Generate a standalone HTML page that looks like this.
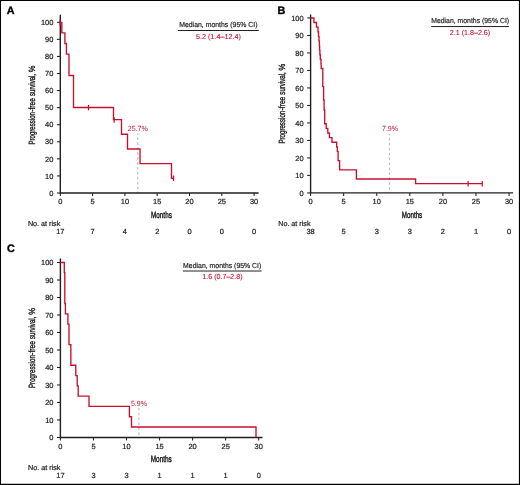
<!DOCTYPE html>
<html><head><meta charset="utf-8"><title>Progression-free survival</title>
<style>
html,body{margin:0;padding:0;background:#fff}
body{width:520px;height:485px;overflow:hidden;position:relative}
svg{display:block;position:absolute;left:0;top:0;font-family:"Liberation Sans",sans-serif;text-rendering:geometricPrecision}
</style></head><body>
<svg width="520" height="485" viewBox="0 0 520 485">
<rect x="0" y="0" width="520" height="485" fill="#fff"/>
<text x="6.8" y="14.2" font-size="10.8" font-weight="700" fill="#000" stroke="#000" stroke-width="0.35">A</text>
<line x1="137.7" y1="133.3" x2="137.7" y2="193.0" stroke="#c0c0c0" stroke-width="1.2" stroke-dasharray="2.7 2.24" stroke-dashoffset="1.0"/>
<path d="M60.3 14.8V193.0H258.6" fill="none" stroke="#231f20" stroke-width="1.4"/>
<line x1="56.90" y1="193.00" x2="60.3" y2="193.00" stroke="#231f20" stroke-width="1.05"/>
<text x="53.35" y="195.70" font-size="7.45" text-anchor="end" fill="#231f20" stroke="#231f20" stroke-width="0.22">0</text>
<line x1="56.90" y1="175.93" x2="60.3" y2="175.93" stroke="#231f20" stroke-width="1.05"/>
<text x="53.35" y="178.63" font-size="7.45" text-anchor="end" fill="#231f20" stroke="#231f20" stroke-width="0.22">10</text>
<line x1="56.90" y1="158.86" x2="60.3" y2="158.86" stroke="#231f20" stroke-width="1.05"/>
<text x="53.35" y="161.56" font-size="7.45" text-anchor="end" fill="#231f20" stroke="#231f20" stroke-width="0.22">20</text>
<line x1="56.90" y1="141.79" x2="60.3" y2="141.79" stroke="#231f20" stroke-width="1.05"/>
<text x="53.35" y="144.49" font-size="7.45" text-anchor="end" fill="#231f20" stroke="#231f20" stroke-width="0.22">30</text>
<line x1="56.90" y1="124.72" x2="60.3" y2="124.72" stroke="#231f20" stroke-width="1.05"/>
<text x="53.35" y="127.42" font-size="7.45" text-anchor="end" fill="#231f20" stroke="#231f20" stroke-width="0.22">40</text>
<line x1="56.90" y1="107.65" x2="60.3" y2="107.65" stroke="#231f20" stroke-width="1.05"/>
<text x="53.35" y="110.35" font-size="7.45" text-anchor="end" fill="#231f20" stroke="#231f20" stroke-width="0.22">50</text>
<line x1="56.90" y1="90.58" x2="60.3" y2="90.58" stroke="#231f20" stroke-width="1.05"/>
<text x="53.35" y="93.28" font-size="7.45" text-anchor="end" fill="#231f20" stroke="#231f20" stroke-width="0.22">60</text>
<line x1="56.90" y1="73.51" x2="60.3" y2="73.51" stroke="#231f20" stroke-width="1.05"/>
<text x="53.35" y="76.21" font-size="7.45" text-anchor="end" fill="#231f20" stroke="#231f20" stroke-width="0.22">70</text>
<line x1="56.90" y1="56.44" x2="60.3" y2="56.44" stroke="#231f20" stroke-width="1.05"/>
<text x="53.35" y="59.14" font-size="7.45" text-anchor="end" fill="#231f20" stroke="#231f20" stroke-width="0.22">80</text>
<line x1="56.90" y1="39.37" x2="60.3" y2="39.37" stroke="#231f20" stroke-width="1.05"/>
<text x="53.35" y="42.07" font-size="7.45" text-anchor="end" fill="#231f20" stroke="#231f20" stroke-width="0.22">90</text>
<line x1="56.90" y1="22.30" x2="60.3" y2="22.30" stroke="#231f20" stroke-width="1.05"/>
<text x="53.35" y="25.00" font-size="7.45" text-anchor="end" fill="#231f20" stroke="#231f20" stroke-width="0.22">100</text>
<line x1="60.30" y1="193.0" x2="60.30" y2="196.0" stroke="#231f20" stroke-width="1.05"/>
<text x="60.30" y="204.45" font-size="7.45" text-anchor="middle" fill="#231f20" stroke="#231f20" stroke-width="0.22">0</text>
<line x1="92.60" y1="193.0" x2="92.60" y2="196.0" stroke="#231f20" stroke-width="1.05"/>
<text x="92.60" y="204.45" font-size="7.45" text-anchor="middle" fill="#231f20" stroke="#231f20" stroke-width="0.22">5</text>
<line x1="124.90" y1="193.0" x2="124.90" y2="196.0" stroke="#231f20" stroke-width="1.05"/>
<text x="124.90" y="204.45" font-size="7.45" text-anchor="middle" fill="#231f20" stroke="#231f20" stroke-width="0.22">10</text>
<line x1="157.20" y1="193.0" x2="157.20" y2="196.0" stroke="#231f20" stroke-width="1.05"/>
<text x="157.20" y="204.45" font-size="7.45" text-anchor="middle" fill="#231f20" stroke="#231f20" stroke-width="0.22">15</text>
<line x1="189.50" y1="193.0" x2="189.50" y2="196.0" stroke="#231f20" stroke-width="1.05"/>
<text x="189.50" y="204.45" font-size="7.45" text-anchor="middle" fill="#231f20" stroke="#231f20" stroke-width="0.22">20</text>
<line x1="221.80" y1="193.0" x2="221.80" y2="196.0" stroke="#231f20" stroke-width="1.05"/>
<text x="221.80" y="204.45" font-size="7.45" text-anchor="middle" fill="#231f20" stroke="#231f20" stroke-width="0.22">25</text>
<line x1="254.10" y1="193.0" x2="254.10" y2="196.0" stroke="#231f20" stroke-width="1.05"/>
<text x="254.10" y="204.45" font-size="7.45" text-anchor="middle" fill="#231f20" stroke="#231f20" stroke-width="0.22">30</text>
<text transform="translate(34.7 144.1) rotate(-90)" font-size="9" fill="#231f20" stroke="#231f20" stroke-width="0.4"><tspan x="-0.40" textLength="32.45" lengthAdjust="spacingAndGlyphs">Progression</tspan><tspan x="32.30" textLength="2.40" lengthAdjust="spacingAndGlyphs">-</tspan><tspan x="34.65" textLength="11.30" lengthAdjust="spacingAndGlyphs">free</tspan> <tspan x="48.00" textLength="22.15" lengthAdjust="spacingAndGlyphs">survival,</tspan> <tspan x="71.95" textLength="6.65" lengthAdjust="spacingAndGlyphs">%</tspan></text>
<text x="151.1" y="217.6" font-size="9" textLength="20.7" lengthAdjust="spacingAndGlyphs" fill="#231f20" stroke="#231f20" stroke-width="0.45">Months</text>
<text x="27.9" y="225.9" font-size="7.2" fill="#231f20" stroke="#231f20" stroke-width="0.22">No. at risk</text>
<text x="60.30" y="233.8" font-size="7.45" text-anchor="middle" fill="#231f20" stroke="#231f20" stroke-width="0.22">17</text>
<text x="92.60" y="233.8" font-size="7.45" text-anchor="middle" fill="#231f20" stroke="#231f20" stroke-width="0.22">7</text>
<text x="124.90" y="233.8" font-size="7.45" text-anchor="middle" fill="#231f20" stroke="#231f20" stroke-width="0.22">4</text>
<text x="157.20" y="233.8" font-size="7.45" text-anchor="middle" fill="#231f20" stroke="#231f20" stroke-width="0.22">2</text>
<text x="189.50" y="233.8" font-size="7.45" text-anchor="middle" fill="#231f20" stroke="#231f20" stroke-width="0.22">0</text>
<text x="221.80" y="233.8" font-size="7.45" text-anchor="middle" fill="#231f20" stroke="#231f20" stroke-width="0.22">0</text>
<text x="254.10" y="233.8" font-size="7.45" text-anchor="middle" fill="#231f20" stroke="#231f20" stroke-width="0.22">0</text>
<text x="179.2" y="27.25" font-size="7.3" textLength="78.3" lengthAdjust="spacingAndGlyphs" fill="#231f20" stroke="#231f20" stroke-width="0.2">Median, months (95% CI)</text>
<line x1="177.9" y1="30.5" x2="258.8" y2="30.5" stroke="#231f20" stroke-width="1"/>
<text x="195.90" y="38.6" font-size="7.3" textLength="45.0" lengthAdjust="spacingAndGlyphs" fill="#c8102e" stroke="#c8102e" stroke-width="0.1">5.2 (1.4–12.4)</text>
<text x="127.70" y="130.6" font-size="7.5" textLength="20.2" lengthAdjust="spacingAndGlyphs" fill="#c8102e">25.7%</text>
<path d="M60.30 22.30 L61.85 22.30 L61.85 32.85 L64.90 32.85 L64.90 43.45 L66.40 43.45 L66.40 54.15 L69.00 54.15 L69.00 75.45 L73.50 75.45 L73.50 107.50 L113.50 107.50 L113.50 119.65 L121.50 119.65 L121.50 134.25 L127.50 134.25 L127.50 148.95 L140.05 148.95 L140.05 163.55 L171.50 163.55 L171.50 178.30 L173.55 178.30" fill="none" stroke="#c8102e" stroke-width="1.35" stroke-linejoin="miter"/>
<line x1="60.1" y1="19.60" x2="60.1" y2="25.15" stroke="#c8102e" stroke-width="1.25"/>
<line x1="88.5" y1="104.80" x2="88.5" y2="110.35" stroke="#c8102e" stroke-width="1.25"/>
<line x1="114.15" y1="117.30" x2="114.15" y2="122.85" stroke="#c8102e" stroke-width="1.25"/>
<line x1="173.55" y1="175.50" x2="173.55" y2="181.05" stroke="#c8102e" stroke-width="1.25"/>
<text x="277.6" y="14.3" font-size="10.8" font-weight="700" fill="#000" stroke="#000" stroke-width="0.35">B</text>
<line x1="389.5" y1="134.1" x2="389.5" y2="192.9" stroke="#c0c0c0" stroke-width="1.2" stroke-dasharray="2.7 2.24" stroke-dashoffset="1.2"/>
<path d="M310.6 14.6V192.9H513.1" fill="none" stroke="#231f20" stroke-width="1.4"/>
<line x1="307.20" y1="192.90" x2="310.6" y2="192.90" stroke="#231f20" stroke-width="1.05"/>
<text x="303.65" y="195.60" font-size="7.45" text-anchor="end" fill="#231f20" stroke="#231f20" stroke-width="0.22">0</text>
<line x1="307.20" y1="175.41" x2="310.6" y2="175.41" stroke="#231f20" stroke-width="1.05"/>
<text x="303.65" y="178.10" font-size="7.45" text-anchor="end" fill="#231f20" stroke="#231f20" stroke-width="0.22">10</text>
<line x1="307.20" y1="157.91" x2="310.6" y2="157.91" stroke="#231f20" stroke-width="1.05"/>
<text x="303.65" y="160.61" font-size="7.45" text-anchor="end" fill="#231f20" stroke="#231f20" stroke-width="0.22">20</text>
<line x1="307.20" y1="140.41" x2="310.6" y2="140.41" stroke="#231f20" stroke-width="1.05"/>
<text x="303.65" y="143.11" font-size="7.45" text-anchor="end" fill="#231f20" stroke="#231f20" stroke-width="0.22">30</text>
<line x1="307.20" y1="122.92" x2="310.6" y2="122.92" stroke="#231f20" stroke-width="1.05"/>
<text x="303.65" y="125.62" font-size="7.45" text-anchor="end" fill="#231f20" stroke="#231f20" stroke-width="0.22">40</text>
<line x1="307.20" y1="105.43" x2="310.6" y2="105.43" stroke="#231f20" stroke-width="1.05"/>
<text x="303.65" y="108.13" font-size="7.45" text-anchor="end" fill="#231f20" stroke="#231f20" stroke-width="0.22">50</text>
<line x1="307.20" y1="87.93" x2="310.6" y2="87.93" stroke="#231f20" stroke-width="1.05"/>
<text x="303.65" y="90.63" font-size="7.45" text-anchor="end" fill="#231f20" stroke="#231f20" stroke-width="0.22">60</text>
<line x1="307.20" y1="70.43" x2="310.6" y2="70.43" stroke="#231f20" stroke-width="1.05"/>
<text x="303.65" y="73.13" font-size="7.45" text-anchor="end" fill="#231f20" stroke="#231f20" stroke-width="0.22">70</text>
<line x1="307.20" y1="52.94" x2="310.6" y2="52.94" stroke="#231f20" stroke-width="1.05"/>
<text x="303.65" y="55.64" font-size="7.45" text-anchor="end" fill="#231f20" stroke="#231f20" stroke-width="0.22">80</text>
<line x1="307.20" y1="35.44" x2="310.6" y2="35.44" stroke="#231f20" stroke-width="1.05"/>
<text x="303.65" y="38.14" font-size="7.45" text-anchor="end" fill="#231f20" stroke="#231f20" stroke-width="0.22">90</text>
<line x1="307.20" y1="17.95" x2="310.6" y2="17.95" stroke="#231f20" stroke-width="1.05"/>
<text x="303.65" y="20.65" font-size="7.45" text-anchor="end" fill="#231f20" stroke="#231f20" stroke-width="0.22">100</text>
<line x1="310.60" y1="192.9" x2="310.60" y2="195.9" stroke="#231f20" stroke-width="1.05"/>
<text x="310.60" y="204.45" font-size="7.45" text-anchor="middle" fill="#231f20" stroke="#231f20" stroke-width="0.22">0</text>
<line x1="343.68" y1="192.9" x2="343.68" y2="195.9" stroke="#231f20" stroke-width="1.05"/>
<text x="343.68" y="204.45" font-size="7.45" text-anchor="middle" fill="#231f20" stroke="#231f20" stroke-width="0.22">5</text>
<line x1="376.75" y1="192.9" x2="376.75" y2="195.9" stroke="#231f20" stroke-width="1.05"/>
<text x="376.75" y="204.45" font-size="7.45" text-anchor="middle" fill="#231f20" stroke="#231f20" stroke-width="0.22">10</text>
<line x1="409.83" y1="192.9" x2="409.83" y2="195.9" stroke="#231f20" stroke-width="1.05"/>
<text x="409.83" y="204.45" font-size="7.45" text-anchor="middle" fill="#231f20" stroke="#231f20" stroke-width="0.22">15</text>
<line x1="442.90" y1="192.9" x2="442.90" y2="195.9" stroke="#231f20" stroke-width="1.05"/>
<text x="442.90" y="204.45" font-size="7.45" text-anchor="middle" fill="#231f20" stroke="#231f20" stroke-width="0.22">20</text>
<line x1="475.98" y1="192.9" x2="475.98" y2="195.9" stroke="#231f20" stroke-width="1.05"/>
<text x="475.98" y="204.45" font-size="7.45" text-anchor="middle" fill="#231f20" stroke="#231f20" stroke-width="0.22">25</text>
<line x1="509.05" y1="192.9" x2="509.05" y2="195.9" stroke="#231f20" stroke-width="1.05"/>
<text x="509.05" y="204.45" font-size="7.45" text-anchor="middle" fill="#231f20" stroke="#231f20" stroke-width="0.22">30</text>
<text transform="translate(285.0 143.2) rotate(-90)" font-size="9" fill="#231f20" stroke="#231f20" stroke-width="0.4"><tspan x="-0.40" textLength="32.82" lengthAdjust="spacingAndGlyphs">Progression</tspan><tspan x="32.67" textLength="2.43" lengthAdjust="spacingAndGlyphs">-</tspan><tspan x="35.05" textLength="11.43" lengthAdjust="spacingAndGlyphs">free</tspan> <tspan x="48.55" textLength="22.40" lengthAdjust="spacingAndGlyphs">survival,</tspan> <tspan x="72.77" textLength="6.73" lengthAdjust="spacingAndGlyphs">%</tspan></text>
<text x="401.8" y="217.6" font-size="9" textLength="20.4" lengthAdjust="spacingAndGlyphs" fill="#231f20" stroke="#231f20" stroke-width="0.45">Months</text>
<text x="278.2" y="225.9" font-size="7.2" fill="#231f20" stroke="#231f20" stroke-width="0.22">No. at risk</text>
<text x="310.60" y="233.8" font-size="7.45" text-anchor="middle" fill="#231f20" stroke="#231f20" stroke-width="0.22">38</text>
<text x="343.68" y="233.8" font-size="7.45" text-anchor="middle" fill="#231f20" stroke="#231f20" stroke-width="0.22">5</text>
<text x="376.75" y="233.8" font-size="7.45" text-anchor="middle" fill="#231f20" stroke="#231f20" stroke-width="0.22">3</text>
<text x="409.83" y="233.8" font-size="7.45" text-anchor="middle" fill="#231f20" stroke="#231f20" stroke-width="0.22">3</text>
<text x="442.90" y="233.8" font-size="7.45" text-anchor="middle" fill="#231f20" stroke="#231f20" stroke-width="0.22">2</text>
<text x="475.98" y="233.8" font-size="7.45" text-anchor="middle" fill="#231f20" stroke="#231f20" stroke-width="0.22">1</text>
<text x="509.05" y="233.8" font-size="7.45" text-anchor="middle" fill="#231f20" stroke="#231f20" stroke-width="0.22">0</text>
<text x="431.2" y="23.25" font-size="7.3" textLength="77.9" lengthAdjust="spacingAndGlyphs" fill="#231f20" stroke="#231f20" stroke-width="0.2">Median, months (95% CI)</text>
<line x1="431.2" y1="26.55" x2="508.9" y2="26.55" stroke="#231f20" stroke-width="1"/>
<text x="449.80" y="34.6" font-size="7.3" textLength="40.4" lengthAdjust="spacingAndGlyphs" fill="#c8102e" stroke="#c8102e" stroke-width="0.1">2.1 (1.8–2.6)</text>
<text x="382.00" y="131.3" font-size="7.5" textLength="16.0" lengthAdjust="spacingAndGlyphs" fill="#c8102e">7.9%</text>
<path d="M310.60 17.95 L313.90 17.95 L313.90 22.50 L316.50 22.50 L316.50 27.11 L318.00 27.11 L318.00 31.71 L318.50 31.71 L318.50 36.32 L319.00 36.32 L319.00 40.92 L319.40 40.92 L319.40 45.52 L319.60 45.52 L319.60 50.13 L319.90 50.13 L319.90 54.73 L320.30 54.73 L320.30 59.34 L321.00 59.34 L321.00 63.94 L321.20 63.94 L321.20 68.54 L322.80 68.54 L322.80 86.60 L323.60 86.60 L323.60 100.00 L324.10 100.00 L324.10 110.00 L324.70 110.00 L324.70 123.79 L326.20 123.79 L326.20 128.39 L327.80 128.39 L327.80 133.00 L329.40 133.00 L329.40 137.60 L332.00 137.60 L332.00 142.21 L336.65 142.21 L336.65 146.81 L337.30 146.81 L337.30 151.41 L338.10 151.41 L338.10 160.62 L339.60 160.62 L339.60 169.83 L356.40 169.83 L356.40 179.04 L415.60 179.04 L415.60 183.64 L482.30 183.64" fill="none" stroke="#c8102e" stroke-width="1.35" stroke-linejoin="miter"/>
<line x1="468.1" y1="180.94" x2="468.1" y2="186.49" stroke="#c8102e" stroke-width="1.25"/>
<line x1="482.25" y1="180.94" x2="482.25" y2="186.49" stroke="#c8102e" stroke-width="1.25"/>
<text x="6.9" y="252.1" font-size="10.8" font-weight="700" fill="#000" stroke="#000" stroke-width="0.35">C</text>
<line x1="138.9" y1="408.0" x2="138.9" y2="437.45" stroke="#c0c0c0" stroke-width="1.2" stroke-dasharray="2.7 2.24" stroke-dashoffset="0.5"/>
<path d="M60.4 258.4V437.45H262.5" fill="none" stroke="#231f20" stroke-width="1.4"/>
<line x1="57.00" y1="437.45" x2="60.4" y2="437.45" stroke="#231f20" stroke-width="1.05"/>
<text x="53.45" y="440.15" font-size="7.45" text-anchor="end" fill="#231f20" stroke="#231f20" stroke-width="0.22">0</text>
<line x1="57.00" y1="419.95" x2="60.4" y2="419.95" stroke="#231f20" stroke-width="1.05"/>
<text x="53.45" y="422.65" font-size="7.45" text-anchor="end" fill="#231f20" stroke="#231f20" stroke-width="0.22">10</text>
<line x1="57.00" y1="402.46" x2="60.4" y2="402.46" stroke="#231f20" stroke-width="1.05"/>
<text x="53.45" y="405.16" font-size="7.45" text-anchor="end" fill="#231f20" stroke="#231f20" stroke-width="0.22">20</text>
<line x1="57.00" y1="384.96" x2="60.4" y2="384.96" stroke="#231f20" stroke-width="1.05"/>
<text x="53.45" y="387.66" font-size="7.45" text-anchor="end" fill="#231f20" stroke="#231f20" stroke-width="0.22">30</text>
<line x1="57.00" y1="367.47" x2="60.4" y2="367.47" stroke="#231f20" stroke-width="1.05"/>
<text x="53.45" y="370.17" font-size="7.45" text-anchor="end" fill="#231f20" stroke="#231f20" stroke-width="0.22">40</text>
<line x1="57.00" y1="349.98" x2="60.4" y2="349.98" stroke="#231f20" stroke-width="1.05"/>
<text x="53.45" y="352.68" font-size="7.45" text-anchor="end" fill="#231f20" stroke="#231f20" stroke-width="0.22">50</text>
<line x1="57.00" y1="332.48" x2="60.4" y2="332.48" stroke="#231f20" stroke-width="1.05"/>
<text x="53.45" y="335.18" font-size="7.45" text-anchor="end" fill="#231f20" stroke="#231f20" stroke-width="0.22">60</text>
<line x1="57.00" y1="314.99" x2="60.4" y2="314.99" stroke="#231f20" stroke-width="1.05"/>
<text x="53.45" y="317.69" font-size="7.45" text-anchor="end" fill="#231f20" stroke="#231f20" stroke-width="0.22">70</text>
<line x1="57.00" y1="297.49" x2="60.4" y2="297.49" stroke="#231f20" stroke-width="1.05"/>
<text x="53.45" y="300.19" font-size="7.45" text-anchor="end" fill="#231f20" stroke="#231f20" stroke-width="0.22">80</text>
<line x1="57.00" y1="280.00" x2="60.4" y2="280.00" stroke="#231f20" stroke-width="1.05"/>
<text x="53.45" y="282.69" font-size="7.45" text-anchor="end" fill="#231f20" stroke="#231f20" stroke-width="0.22">90</text>
<line x1="57.00" y1="262.50" x2="60.4" y2="262.50" stroke="#231f20" stroke-width="1.05"/>
<text x="53.45" y="265.20" font-size="7.45" text-anchor="end" fill="#231f20" stroke="#231f20" stroke-width="0.22">100</text>
<line x1="60.40" y1="437.45" x2="60.40" y2="440.45" stroke="#231f20" stroke-width="1.05"/>
<text x="60.40" y="449.0" font-size="7.45" text-anchor="middle" fill="#231f20" stroke="#231f20" stroke-width="0.22">0</text>
<line x1="93.45" y1="437.45" x2="93.45" y2="440.45" stroke="#231f20" stroke-width="1.05"/>
<text x="93.45" y="449.0" font-size="7.45" text-anchor="middle" fill="#231f20" stroke="#231f20" stroke-width="0.22">5</text>
<line x1="126.50" y1="437.45" x2="126.50" y2="440.45" stroke="#231f20" stroke-width="1.05"/>
<text x="126.50" y="449.0" font-size="7.45" text-anchor="middle" fill="#231f20" stroke="#231f20" stroke-width="0.22">10</text>
<line x1="159.55" y1="437.45" x2="159.55" y2="440.45" stroke="#231f20" stroke-width="1.05"/>
<text x="159.55" y="449.0" font-size="7.45" text-anchor="middle" fill="#231f20" stroke="#231f20" stroke-width="0.22">15</text>
<line x1="192.60" y1="437.45" x2="192.60" y2="440.45" stroke="#231f20" stroke-width="1.05"/>
<text x="192.60" y="449.0" font-size="7.45" text-anchor="middle" fill="#231f20" stroke="#231f20" stroke-width="0.22">20</text>
<line x1="225.65" y1="437.45" x2="225.65" y2="440.45" stroke="#231f20" stroke-width="1.05"/>
<text x="225.65" y="449.0" font-size="7.45" text-anchor="middle" fill="#231f20" stroke="#231f20" stroke-width="0.22">25</text>
<line x1="258.70" y1="437.45" x2="258.70" y2="440.45" stroke="#231f20" stroke-width="1.05"/>
<text x="258.70" y="449.0" font-size="7.45" text-anchor="middle" fill="#231f20" stroke="#231f20" stroke-width="0.22">30</text>
<text transform="translate(35.0 387.6) rotate(-90)" font-size="9" fill="#231f20" stroke="#231f20" stroke-width="0.4"><tspan x="-0.40" textLength="32.82" lengthAdjust="spacingAndGlyphs">Progression</tspan><tspan x="32.67" textLength="2.43" lengthAdjust="spacingAndGlyphs">-</tspan><tspan x="35.05" textLength="11.43" lengthAdjust="spacingAndGlyphs">free</tspan> <tspan x="48.55" textLength="22.40" lengthAdjust="spacingAndGlyphs">survival,</tspan> <tspan x="72.77" textLength="6.73" lengthAdjust="spacingAndGlyphs">%</tspan></text>
<text x="150.75" y="461.8" font-size="9" textLength="21.0" lengthAdjust="spacingAndGlyphs" fill="#231f20" stroke="#231f20" stroke-width="0.45">Months</text>
<text x="28.1" y="470.2" font-size="7.2" fill="#231f20" stroke="#231f20" stroke-width="0.22">No. at risk</text>
<text x="60.40" y="478.4" font-size="7.45" text-anchor="middle" fill="#231f20" stroke="#231f20" stroke-width="0.22">17</text>
<text x="93.45" y="478.4" font-size="7.45" text-anchor="middle" fill="#231f20" stroke="#231f20" stroke-width="0.22">3</text>
<text x="126.50" y="478.4" font-size="7.45" text-anchor="middle" fill="#231f20" stroke="#231f20" stroke-width="0.22">3</text>
<text x="159.55" y="478.4" font-size="7.45" text-anchor="middle" fill="#231f20" stroke="#231f20" stroke-width="0.22">1</text>
<text x="192.60" y="478.4" font-size="7.45" text-anchor="middle" fill="#231f20" stroke="#231f20" stroke-width="0.22">1</text>
<text x="225.65" y="478.4" font-size="7.45" text-anchor="middle" fill="#231f20" stroke="#231f20" stroke-width="0.22">1</text>
<text x="258.70" y="478.4" font-size="7.45" text-anchor="middle" fill="#231f20" stroke="#231f20" stroke-width="0.22">0</text>
<text x="183.1" y="267.9" font-size="7.3" textLength="78.2" lengthAdjust="spacingAndGlyphs" fill="#231f20" stroke="#231f20" stroke-width="0.2">Median, months (95% CI)</text>
<line x1="182.9" y1="271.0" x2="261.6" y2="271.0" stroke="#231f20" stroke-width="1"/>
<text x="202.40" y="279.3" font-size="7.3" textLength="40.2" lengthAdjust="spacingAndGlyphs" fill="#c8102e" stroke="#c8102e" stroke-width="0.1">1.6 (0.7–2.8)</text>
<text x="130.90" y="405.75" font-size="7.5" textLength="16.0" lengthAdjust="spacingAndGlyphs" fill="#c8102e">5.9%</text>
<path d="M60.40 262.50 L64.30 262.50 L64.30 272.64 L64.80 272.64 L64.80 303.51 L65.40 303.51 L65.40 313.81 L67.90 313.81 L67.90 324.10 L69.00 324.10 L69.00 344.68 L70.85 344.68 L70.85 365.26 L75.80 365.26 L75.80 375.55 L77.20 375.55 L77.20 385.84 L78.20 385.84 L78.20 396.14 L89.00 396.14 L89.00 406.43 L129.40 406.43 L129.40 416.72 L131.50 416.72 L131.50 427.01 L256.00 427.01 L256.00 436.90" fill="none" stroke="#c8102e" stroke-width="1.35" stroke-linejoin="miter"/>
<path d="M0 0H520V485H0Z M1 1V483.85H518.9V1Z" fill="#000" fill-rule="evenodd"/>
</svg>
</body></html>
